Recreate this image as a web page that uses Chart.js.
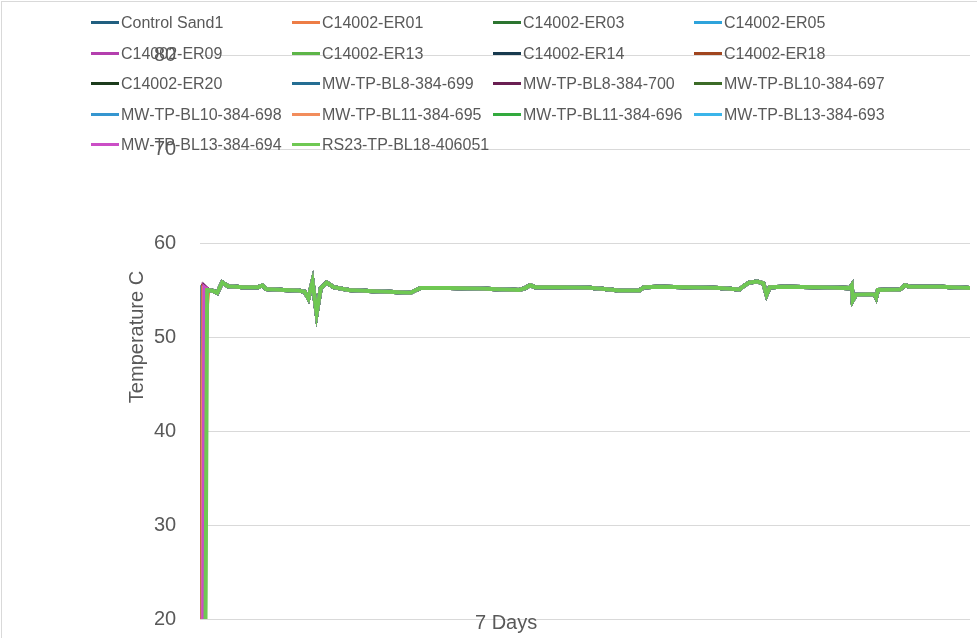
<!DOCTYPE html>
<html>
<head>
<meta charset="utf-8">
<script src="https://cdn.jsdelivr.net/npm/chart.js@4"></script>
<style>
  body { margin: 0; background: #fff; font-family: "Liberation Sans", Arial, sans-serif; }
  #wrap { position: relative; width: 977px; height: 638px; overflow: hidden; }
  #lineChart { position: absolute; left: 0; top: 0; }
  #frame { position: absolute; left: 1px; top: 1px; width: 980px; height: 640px; border: 1px solid #d9d9d9; box-sizing: border-box; }
  #legend { position: absolute; left: 0; top: 0; }
  .item { position: absolute; height: 20px; line-height: 20px; font-size: 16px; color: #595959; white-space: nowrap; }
  .item span { display: inline-block; width: 28px; height: 3px; vertical-align: middle; margin-right: 2px; margin-top: -2px; }
  #xtitle { position: absolute; left: 475px; top: 610px; font-size: 20px; line-height: 24px; color: #595959; }
</style>
</head>
<body>
<div id="wrap">
  <canvas id="lineChart" width="977" height="655"></canvas>
  <div id="frame"></div>
  <div id="legend"></div>
  <div id="xtitle">7 Days</div>
</div>
<script>
// series names, in legend order
var names = ["Control Sand1", "C14002-ER01", "C14002-ER03", "C14002-ER05",
	"C14002-ER09", "C14002-ER13", "C14002-ER14", "C14002-ER18",
	"C14002-ER20", "MW-TP-BL8-384-699", "MW-TP-BL8-384-700", "MW-TP-BL10-384-697",
	"MW-TP-BL10-384-698", "MW-TP-BL11-384-695", "MW-TP-BL11-384-696", "MW-TP-BL13-384-693",
	"MW-TP-BL13-384-694", "RS23-TP-BL18-406051"]
var colors = ["#215f80", "#ed7d46", "#2c7530", "#2ea3db",
	"#b43fae", "#5db548", "#173a4e", "#a0451f",
	"#1c3b1c", "#256e93", "#6a1f52", "#3c6b27",
	"#3596d0", "#f28d5c", "#33aa3e", "#3bb5ea",
	"#cb4ec6", "#6fc853"]

// start of the run: cold reading, then first hot reading (hours)
var coldTemps = [14, 16, 15, 17, 13, 15, 16, 14, 15, 17, 16, 15, 14, 16, 15, 17, 14, 15]
var coldUntil = [0, 0.2, 0.5, 0.6, 0.4, 0.9, 0.7, 0.3, 0.8, 0.5, 0.6, 0.9, 0.7, 0.4, 1.0, 0.8, 0.6, 1.1]
var hotFrom = [0.1, 0.5, 0.8, 0.9, 0.7, 1.2, 1.0, 0.6, 1.1, 0.8, 0.9, 1.2, 1.0, 0.7, 1.3, 1.1, 0.9, 1.5]
var hotTemps = [55.3, 48.0, 55.1, 55.0, 55.4, 55.0, 55.2, 55.3, 55.1, 55.2, 55.4, 55.0, 55.1, 55.2, 55.0, 54.9, 55.3, 55.0]

// common temperature trace after heat-up
var hours = [1.75, 2.8, 3.7, 4.8, 6.1, 9.4, 12.7, 13.6, 14.4, 18.2,
	21.4, 22.8, 23.6, 24.5, 25.4, 26.3, 27.6, 29.1, 32.4, 36.8,
	42.2, 45.9, 47.3, 48.1, 54.3, 60.8, 66.3, 69.6, 70.9, 72.0,
	73.1, 78.3, 84.9, 88.2, 91.4, 95.8, 96.9, 100.2, 106.8, 113.3,
	117.7, 118.8, 119.9, 121.6, 122.9, 123.6, 124.3, 127.5, 135.2, 141.8,
	142.2, 142.4, 143.1, 146.1, 147.2, 147.5, 147.9, 152.7, 153.8, 154.9,
	161.5, 168]
var temps = [55.0, 54.9, 54.7, 55.8, 55.4, 55.3, 55.3, 55.5, 55.1, 55.0,
	54.95, 54.8, 54.1, 55.9, 52.5, 55.2, 55.8, 55.3, 55.0, 54.9,
	54.8, 54.7, 55.05, 55.2, 55.2, 55.15, 55.05, 55.0, 55.2, 55.5,
	55.3, 55.3, 55.25, 55.1, 54.95, 54.95, 55.3, 55.35, 55.3, 55.2,
	55.05, 55.5, 55.8, 55.9, 55.7, 54.5, 55.3, 55.35, 55.3, 55.2,
	55.5, 53.9, 54.5, 54.55, 54.5, 54.2, 55.0, 55.05, 55.5, 55.35,
	55.35, 55.2]
var yTicks = [20, 30, 40, 50, 60, 70, 80]

var datasets = []
for (var i = 0; i < names.length; i++) {
	var pts = [{x: 0, y: coldTemps[i]}, {x: coldUntil[i], y: coldTemps[i]}, {x: hotFrom[i], y: hotTemps[i]}]
	for (var j = 0; j < hours.length; j++) {
		pts.push({x: hours[j], y: temps[j]})
	}
	datasets.push({
		label: names[i],
		data: pts,
		borderColor: colors[i],
		backgroundColor: colors[i],
		borderWidth: 4,
		pointRadius: 0,
		tension: 0,
		order: names.length - i
	})
}

var ctxL = document.getElementById("lineChart").getContext('2d');
var myLineChart = new Chart(ctxL, {
	type: 'line',
	data: { datasets: datasets },
	options: {
		responsive: false,
		animation: false,
		devicePixelRatio: 1,
		layout: { padding: { top: 55, bottom: 0, left: 98, right: 7 } },
		plugins: { legend: { display: false }, tooltip: { enabled: false } },
		scales: {
			x: { type: 'linear', min: 0, max: 168, display: false },
			y: {
				min: yTicks[0],
				max: yTicks[yTicks.length - 1],
				afterBuildTicks: function (axis) {
					axis.ticks = yTicks.map(function (v) { return {value: v} })
				},
				border: { display: false },
				grid: { color: '#d9d9d9', drawTicks: false },
				ticks: { color: '#595959', padding: 24, font: { family: 'Liberation Sans', size: 20 } },
				title: {
					display: true, text: 'Temperature C', color: '#595959',
					padding: { top: 27, bottom: -19 },
					font: { family: 'Liberation Sans', size: 20 }
				}
			}
		}
	}
});

// legend grid, 4 columns
var legend = document.getElementById('legend')
for (var k = 0; k < names.length; k++) {
	var d = document.createElement('div')
	d.className = 'item'
	d.style.left = (91 + (k % 4) * 201) + 'px'
	d.style.top = (13 + Math.floor(k / 4) * 30.5) + 'px'
	d.innerHTML = '<span style="background:' + colors[k] + '"></span>'
	d.appendChild(document.createTextNode(names[k]))
	legend.appendChild(d)
}
</script>
</body>
</html>
